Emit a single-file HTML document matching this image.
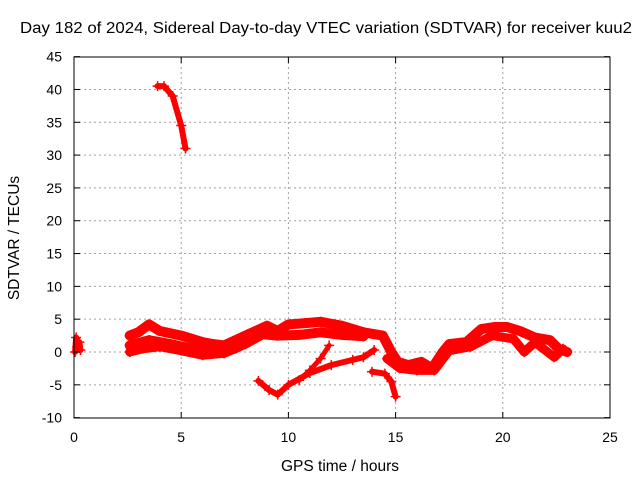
<!DOCTYPE html>
<html><head><meta charset="utf-8"><style>
body{margin:0;background:#fff}
svg text{font-family:"Liberation Sans",sans-serif;font-size:14px;fill:#000}
</style></head><body>
<svg width="640" height="480" viewBox="0 0 640 480" xmlns="http://www.w3.org/2000/svg">
<rect width="640" height="480" fill="#fff"/>
<g id="grid"></g>
<g id="marks"></g>
<rect x="74" y="57" width="536" height="361" fill="none" stroke="#000" stroke-width="1"/>
<g id="ticks"></g>
<text x="20" y="33" textLength="612" lengthAdjust="spacingAndGlyphs" style="font-size:15.5px">Day 182 of 2024, Sidereal Day-to-day VTEC variation (SDTVAR) for receiver kuu2</text>
<text x="340" y="471" text-anchor="middle" style="font-size:15.5px">GPS time / hours</text>
<text transform="translate(19,238) rotate(-90)" text-anchor="middle" style="font-size:15.5px">SDTVAR / TECUs</text>
</svg>
<script>
const xTicks=[0,5,10,15,20,25];
const yTicks=[-10,-5,0,5,10,15,20,25,30,35,40,45];
const trackStart=[[0.05,0],[0.1,2.2],[0.15,0.8],[0.25,1.5],[0.3,0.3]];
const trackPeak=[[3.9,40.5],[4.2,40.5],[4.6,39],[5.0,34.5],[5.2,31]];
const bandTop=[[2.6,2.5],[3.0,3],[3.5,4.2],[4.0,3.2],[5.0,2.5],[6.0,1.5],[6.5,1.2],[7,1],[8,2.5],[9,4],[9.5,3.2],[10,4.2],[10.8,4.4],[11.5,4.6],[12.5,4],[13.5,3],[14.4,2.5],[14.8,0],[15.1,-1.5],[15.6,-2],[16.2,-1.5],[16.7,-2.5],[17.2,0],[17.5,1.2],[18.3,1.5],[19,3.5],[19.6,3.8],[20.2,3.8],[20.8,3.2],[21.5,2.2],[22.2,1.8],[22.6,0.5],[23,0]];
const bandMid=[[2.6,1],[3.5,1.8],[4.5,1.2],[5.5,0.5],[6.5,0],[7.5,0.5],[8.5,2.8],[9.5,2.5],[10.5,2.6],[11.5,3],[12.5,2.6],[13.5,2.4]];
const bandLow=[[2.6,0],[3.2,0.5],[4,0.8],[5,0.2],[6,-0.5],[7,-0.2],[8,1.2],[9,3]];
const bandLow2=[[14.6,-1],[15.2,-2.5],[16,-2.8],[16.8,-2.8],[17.5,0.2],[18.5,0.8],[19.5,2.5],[20.5,2],[21,0],[21.5,1.5],[22.4,-0.8],[22.8,0.5]];
const trackLowA=[[8.6,-4.4],[9.1,-5.8],[9.5,-6.5],[10,-5],[11,-3.2],[12,-2],[13,-1.2],[13.5,-0.8],[14,0.3]];
const trackLowB=[[10.5,-4.3],[11,-2.8],[11.5,-1],[11.9,1]];
const trackLowC=[[13.9,-3],[14.5,-3.3],[14.8,-4.5],[15,-6.8]];
const tracks=[trackStart,trackPeak,bandTop,bandMid,bandLow,bandLow2,trackLowA,trackLowB,trackLowC];
const widths=[6,6,10,10,9,9,6,5,6];
const X=v=>74+v*536/25, Y=v=>352-v*361/55;
const ns="http://www.w3.org/2000/svg";
const grid=document.getElementById('grid'),ticks=document.getElementById('ticks'),marks=document.getElementById('marks');
function mk(t,a,p){const e=document.createElementNS(ns,t);for(const k in a)e.setAttribute(k,a[k]);p.appendChild(e);return e;}
xTicks.forEach(v=>{const x=X(v);
 if(v>0&&v<25){const g=mk('line',{x1:x,x2:x,y1:57,y2:418,stroke:'#a0a0a0','stroke-dasharray':'2,3'},grid);}
 mk('line',{x1:x,x2:x,y1:418,y2:412,stroke:'#000'},ticks);mk('line',{x1:x,x2:x,y1:57,y2:63,stroke:'#000'},ticks);
 const t=mk('text',{x:x,y:442,'text-anchor':'middle'},ticks);t.textContent=v;
 });
yTicks.forEach(v=>{const y=Y(v);
 if(v>-10&&v<45){const g=mk('line',{x1:74,x2:610,y1:y,y2:y,stroke:'#a0a0a0','stroke-dasharray':'2,3'},grid);}
 mk('line',{x1:74,x2:80,y1:y,y2:y,stroke:'#000'},ticks);mk('line',{x1:610,x2:604,y1:y,y2:y,stroke:'#000'},ticks);
 const t=mk('text',{x:62,y:y+5,'text-anchor':'end'},ticks);t.textContent=v;
 });
tracks.forEach((tr,i)=>{
 const pts=tr.map(p=>X(p[0])+','+Y(p[1])).join(' ');
 const pl=mk('polyline',{points:pts,fill:'none',stroke:'#ff0000','stroke-width':widths[i],'stroke-linejoin':'round','stroke-linecap':'round'},marks);
 
 
 tr.forEach(p=>{const x=X(p[0]),y=Y(p[1]);
  const m=mk('path',{d:`M${x-5},${y}h10M${x},${y-5}v10`,stroke:'#ff0000','stroke-width':1.5},marks);
  
  });
});
</script>
</body></html>
